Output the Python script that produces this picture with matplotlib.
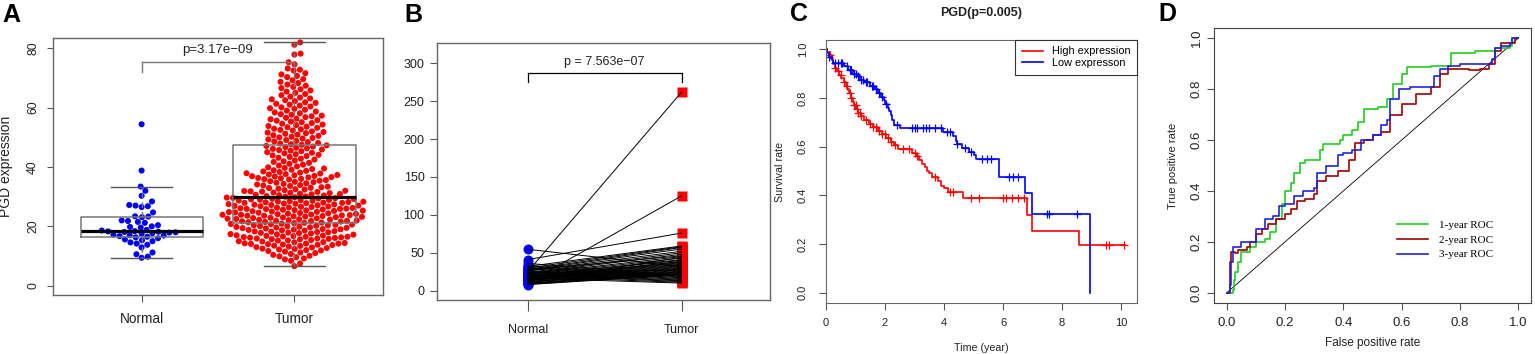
import numpy as np
import matplotlib.pyplot as plt

plt.rcParams['font.family'] = ['Liberation Sans', 'DejaVu Sans']

# ---------------- A: PGD expression, normal vs tumor ----------------
normal_expr = [54.4, 38.8, 33.4, 32.0, 30.3, 28.4, 27.2, 26.8, 26.5, 27.0,
               24.7, 23.4, 23.3, 23.1, 22.0, 21.8, 21.5, 21.2, 20.4, 20.0,
               19.8, 19.6, 18.8, 18.6, 18.4, 18.3, 18.2, 18.1, 18.0, 17.9,
               17.7, 17.5, 17.2, 16.9, 16.7, 16.5, 16.3, 16.0, 15.6, 15.3,
               15.0, 14.6, 14.2, 13.8, 12.9, 11.2, 10.6, 9.8, 9.4, 17.0]

tumor_expr = [
    6.6, 7.5,
    8.4, 8.9, 9.2, 9.6, 9.9,
    10.1, 10.4, 10.7, 11.0, 11.2, 11.5, 11.7, 11.9,
    12.0, 12.2, 12.4, 12.5, 12.7, 12.9, 13.0, 13.2, 13.4, 13.5, 13.7, 13.8, 13.9,
    14.0, 14.1, 14.2, 14.2, 14.3, 14.4, 14.6, 14.7, 14.9, 15.0, 15.2, 15.3, 15.4,
    15.6, 15.7, 15.8, 15.9, 15.95,
    16.1, 16.2, 16.3, 16.4, 16.5, 16.5, 16.6, 16.7, 16.8, 16.9, 17.0, 17.2, 17.3,
    17.4, 17.6, 17.7, 17.8, 17.9,
    18.0, 18.1, 18.2, 18.3, 18.4, 18.6, 18.7, 18.8, 18.9, 19.0, 19.1, 19.3, 19.4,
    19.5, 19.6, 19.7, 19.8, 19.9,
    20.0, 20.1, 20.2, 20.3, 20.4, 20.5, 20.6, 20.7, 20.8, 20.9,
    21.1, 21.2, 21.3, 21.4, 21.5, 21.6, 21.7, 21.8, 21.9, 21.9,
    22.0, 22.1, 22.2, 22.3, 22.4, 22.5, 22.6, 22.7, 22.8, 22.9, 23.0, 23.1, 23.2,
    23.3, 23.4, 23.5, 23.6, 23.6, 23.7, 23.8, 23.9, 23.9,
    24.0, 24.1, 24.2, 24.3, 24.4, 24.5, 24.6, 24.7, 24.8, 24.9, 25.0, 25.1, 25.2,
    25.3, 25.4, 25.5, 25.6, 25.7, 25.8, 25.9, 25.9,
    26.0, 26.1, 26.2, 26.3, 26.4, 26.5, 26.6, 26.7, 26.8, 26.9, 27.0, 27.1, 27.2,
    27.3, 27.4, 27.5, 27.6, 27.7, 27.8, 27.9, 27.9,
    28.0, 28.1, 28.2, 28.3, 28.4, 28.5, 28.6, 28.7, 28.8, 28.9, 29.0, 29.1, 29.2,
    29.3, 29.4, 29.5, 29.6, 29.7, 29.8,
    30.0, 30.1, 30.2, 30.4, 30.5, 30.6, 30.8, 30.9, 31.0, 31.2, 31.3, 31.4, 31.6,
    31.7, 31.8, 31.9,
    32.0, 32.2, 32.4, 32.5, 32.7, 32.9, 33.0, 33.2, 33.4, 33.6, 33.8, 33.9,
    34.1, 34.3, 34.5, 34.7, 34.9, 35.0, 35.2, 35.4, 35.6, 35.8, 35.9,
    36.0, 36.2, 36.3, 36.5, 36.6, 36.8, 36.9, 37.0, 37.2, 37.3, 37.5, 37.6, 37.8, 37.9,
    38.1, 38.3, 38.5, 38.7, 38.9, 39.1, 39.3, 39.5, 39.7, 39.9,
    40.2, 40.5, 40.8, 41.1, 41.4, 41.7, 41.9,
    42.2, 42.5, 42.8, 43.1, 43.4, 43.7, 43.9,
    44.1, 44.3, 44.6, 44.8, 45.0, 45.3, 45.5, 45.7, 45.9,
    46.1, 46.3, 46.5, 46.7, 46.9, 47.1, 47.3,
    47.5, 47.7, 47.9, 48.1, 48.4, 48.6, 48.8, 49.1, 49.3, 49.6, 49.8,
    50.0, 50.2, 50.5, 50.7, 50.9, 51.2, 51.4, 51.6, 51.8,
    52.0, 52.3, 52.5, 52.7, 52.9, 53.2, 53.4, 53.6, 53.8,
    54.1, 54.3, 54.6, 54.8, 55.1, 55.3, 55.6, 55.8,
    56.1, 56.3, 56.6, 56.8, 57.1, 57.3, 57.6, 57.8,
    58.1, 58.4, 58.7, 59.0, 59.3, 59.6, 59.8,
    60.1, 60.4, 60.7, 61.0, 61.3, 61.6, 61.8,
    62.2, 62.5, 62.8, 63.1, 63.4, 63.7,
    64.2, 64.6, 65.0, 65.4, 65.8,
    66.2, 66.6, 67.0, 67.4, 67.8,
    68.3, 68.7, 69.2, 69.6,
    70.3, 70.7, 71.2, 71.6,
    72.5, 72.8, 73.2,
    74.6, 75.3,
    77.9, 78.2,
    81.2, 82.0]

groups_a = ['Normal', 'Tumor']
p_text_a = 'p=3.17e\u221209'

# ---------------- B: paired samples ----------------
paired_normal = [25.0, 10.6, 41.0, 54.6, 32, 30, 28, 27, 26, 24,
                 23, 22, 21, 20, 19.5, 19, 18, 17.5, 17, 16,
                 15.5, 15, 14, 13.5, 13, 12, 11.5, 11, 10, 9.5,
                 9, 8.5, 8, 36, 33, 31, 29, 26.5, 24.5, 22.5,
                 21.5, 20.5, 18.5, 16.5, 14.5, 12.5, 27.5, 23.5, 19.8, 17.2]
paired_tumor = [262, 125, 76, 31.7, 59, 58, 57, 55, 52, 50,
                48, 45, 43, 41, 40, 38, 37, 36, 35, 34,
                33, 32, 31, 30, 29, 28, 27, 26, 25, 24,
                23, 22, 21, 20, 19, 18, 17, 16, 15, 14,
                13, 12, 11, 10, 39, 44, 46, 27.5, 24, 22]
p_text_b = 'p = 7.563e\u221207'

# ---------------- C: survival ----------------
high_t = [0.05, 0.12, 0.2, 0.25, 0.3, 0.38, 0.45, 0.52, 0.6, 0.68, 0.72, 0.78,
          0.85, 0.9, 0.95, 1.02, 1.1, 1.2, 1.3, 1.45, 1.6, 1.75, 1.9, 2.05, 2.2,
          2.3, 2.45, 2.9, 3.05, 3.15, 3.25, 3.35, 3.42, 3.5, 3.6, 3.8, 3.9, 4.0,
          4.15, 4.65, 6.8, 6.97, 8.58]
high_s = [0.99, 0.975, 0.96, 0.94, 0.925, 0.91, 0.895, 0.88, 0.865, 0.85, 0.835,
          0.82, 0.80, 0.785, 0.77, 0.755, 0.74, 0.725, 0.71, 0.695, 0.68, 0.665,
          0.65, 0.635, 0.62, 0.605, 0.59, 0.575, 0.56, 0.545, 0.53, 0.515, 0.50,
          0.49, 0.475, 0.46, 0.44, 0.43, 0.415, 0.39, 0.32, 0.255, 0.197]
high_end = 10.13
high_cens = [0.15, 0.3, 0.4, 0.5, 0.6, 0.7, 0.8, 0.85, 0.95, 1.0, 1.05, 1.1,
             1.15, 1.2, 1.35, 1.5, 1.6, 1.7, 1.8, 1.9, 2.0, 2.1, 2.2, 2.35,
             2.6, 2.8, 3.0, 3.1, 3.7, 4.2, 4.3, 4.9, 5.2, 6.0, 6.1, 6.3, 6.5,
             6.7, 9.5, 9.6, 10.1]

low_t = [0.05, 0.1, 0.2, 0.25, 0.6, 0.75, 0.9, 1.05, 1.15, 1.3, 1.5, 1.65,
         1.75, 1.85, 1.95, 2.0, 2.1, 2.15, 2.2, 2.25, 2.3, 2.5, 3.95, 4.3,
         4.4, 4.45, 4.6, 4.85, 5.0, 5.1, 5.85, 6.75, 6.98, 8.96]
low_s = [0.985, 0.97, 0.955, 0.945, 0.93, 0.915, 0.90, 0.89, 0.875, 0.865,
         0.85, 0.835, 0.82, 0.805, 0.79, 0.775, 0.76, 0.745, 0.73, 0.71, 0.69,
         0.678, 0.662, 0.645, 0.625, 0.61, 0.595, 0.58, 0.565, 0.548, 0.475,
         0.408, 0.322, 0.0]
low_end = 8.96
low_cens = [0.1, 0.3, 0.4, 0.5, 0.55, 0.7, 0.8, 0.85, 0.95, 1.0, 1.1, 1.2,
            1.25, 1.35, 1.4, 1.55, 1.6, 1.7, 1.8, 1.9, 2.05, 2.4, 2.9, 3.0,
            3.1, 3.3, 3.4, 3.5, 3.7, 3.9, 4.1, 4.2, 4.45, 4.7, 4.9, 5.3,
            5.45, 5.6, 6.2, 6.35, 6.5, 7.5, 7.55, 8.5]

# ---------------- D: ROC ----------------
roc1_fpr = [0, 0.02, 0.025, 0.03, 0.04, 0.05, 0.08, 0.1, 0.13, 0.15, 0.17, 0.19,
            0.2, 0.22, 0.23, 0.25, 0.27, 0.31, 0.32, 0.33, 0.37, 0.39, 0.4, 0.43,
            0.45, 0.47, 0.52, 0.55, 0.57, 0.6, 0.62, 0.7, 0.77, 0.85, 0.92, 0.97,
            0.98, 1]
roc1_tpr = [0, 0.01, 0.05, 0.08, 0.12, 0.16, 0.18, 0.2, 0.21, 0.24, 0.29, 0.35,
            0.40, 0.43, 0.47, 0.51, 0.52, 0.52, 0.56, 0.585, 0.585, 0.6, 0.62, 0.64,
            0.67, 0.72, 0.73, 0.76, 0.82, 0.86, 0.885, 0.89, 0.94, 0.95, 0.96, 0.97,
            1.0, 1.0]
roc2_fpr = [0, 0.01, 0.012, 0.015, 0.03, 0.04, 0.07, 0.08, 0.1, 0.12, 0.14, 0.17,
            0.2, 0.22, 0.24, 0.27, 0.3, 0.31, 0.34, 0.38, 0.42, 0.44, 0.47, 0.5,
            0.53, 0.56, 0.6, 0.65, 0.7, 0.73, 0.76, 0.83, 0.87, 0.9, 0.92, 0.94,
            0.97, 0.99, 1]
roc2_tpr = [0, 0.05, 0.12, 0.16, 0.155, 0.17, 0.18, 0.2, 0.23, 0.25, 0.27, 0.29,
            0.31, 0.33, 0.36, 0.37, 0.39, 0.44, 0.46, 0.48, 0.52, 0.59, 0.6, 0.62,
            0.63, 0.7, 0.74, 0.78, 0.81, 0.86, 0.88, 0.875, 0.88, 0.9, 0.95, 0.98,
            0.98, 1.0, 1.0]
roc3_fpr = [0, 0.01, 0.015, 0.02, 0.04, 0.05, 0.08, 0.1, 0.13, 0.16, 0.18, 0.2,
            0.23, 0.26, 0.3, 0.31, 0.34, 0.38, 0.4, 0.43, 0.46, 0.5, 0.53, 0.55,
            0.56, 0.59, 0.63, 0.68, 0.71, 0.73, 0.76, 0.8, 0.86, 0.91, 0.92, 0.94,
            0.97, 0.98, 1]
roc3_tpr = [0, 0.03, 0.12, 0.18, 0.18, 0.2, 0.2, 0.25, 0.29, 0.3, 0.34, 0.35,
            0.38, 0.4, 0.41, 0.47, 0.5, 0.54, 0.55, 0.56, 0.6, 0.62, 0.66, 0.68,
            0.76, 0.8, 0.81, 0.81, 0.85, 0.88, 0.89, 0.9, 0.9, 0.92, 0.96, 0.97,
            0.98, 1.0, 1.0]
roc_labels = ['1-year ROC', '2-year ROC', '3-year ROC']
roc_colors = ['#22cc22', '#a00000', '#2222dd']


def swarm_offsets(vals, px_per_unit, d):
    # beeswarm "swarm": each point goes to the free spot closest to the centre
    ys = np.asarray(vals, float) * px_per_unit
    out = np.zeros(len(ys))
    px, py = [], []
    for i in np.argsort(ys, kind='stable'):
        y = ys[i]
        c = 0.0
        if px:
            ax_ = np.array(px)
            ay = np.array(py)
            near = np.abs(ay - y) < d
            nx, ny = ax_[near], ay[near]
            dx = np.sqrt(d ** 2 - (ny - y) ** 2)
            cands = sorted([0.0] + list(nx + dx) + list(nx - dx), key=abs)
            for c in cands:
                if np.all((nx - c) ** 2 + (ny - y) ** 2 >= d ** 2 - 1e-6):
                    break
        out[i] = c
        px.append(c)
        py.append(y)
    return out


fig = plt.figure(figsize=(15.35, 3.54), dpi=100)
W, H = 1535, 354


def axes_px(l, r, t, b):
    return fig.add_axes([l / W, 1 - b / H, (r - l) / W, (b - t) / H])


grey = '#555555'
tc = '#222222'

# ---- A
ax = axes_px(53, 383, 38, 295)
ax.set_xlim(0.42, 2.58)
ax.set_ylim(-3.13, 83.47)
ypx_a = 237.4 / 80
xpx_a = 153.0
for k, (vals, col) in enumerate([(normal_expr, '#0000ff'), (tumor_expr, '#ff0000')]):
    off = swarm_offsets(vals, ypx_a, 6.3) / xpx_a
    ax.scatter(k + 1 + off, vals, s=19, color=col, edgecolors='none', zorder=2)
ax.boxplot([normal_expr, tumor_expr], positions=[1, 2], widths=0.8, whis=1.5,
           showfliers=False, capwidths=0.4, manage_ticks=False, zorder=3,
           boxprops=dict(color='#777777', lw=1.1),
           medianprops=dict(color='black', lw=2.3),
           whiskerprops=dict(color='#777777', lw=1.0, ls=(0, (4, 3))),
           capprops=dict(color='#555555', lw=1.0))
ax.plot([1, 2], [75.5, 75.5], color='#777777', lw=1.0, zorder=3)
ax.plot([1, 1], [75.5, 72.1], color='#777777', lw=1.0, zorder=3)
ax.plot([2, 2], [75.5, 72.1], color='#777777', lw=1.0, zorder=3)
ax.text(1.5, 79.4, p_text_a, ha='center', va='center', fontsize=9.5, color=tc)
ax.set_xticks([1, 2])
ax.set_xticklabels(groups_a, fontsize=9.8, color=tc)
ax.set_yticks([0, 20, 40, 60, 80])
ax.set_yticklabels(['0', '20', '40', '60', '80'], rotation=90, va='center',
                   fontsize=8.8, color=tc)
ax.tick_params(axis='y', length=4, pad=6, color=grey)
ax.tick_params(axis='x', length=5, pad=7, color=grey)
ax.set_ylabel('PGD expression', fontsize=10, color=tc)
ax.yaxis.set_label_coords(-0.121, 0.5)
for s in ax.spines.values():
    s.set_color('#666666')
    s.set_linewidth(1.0)

# ---- B
ax = axes_px(437, 770, 43, 300)
ax.set_xlim(0.41, 2.575)
ax.set_ylim(-12.3, 326.8)
for a, b in zip(paired_normal, paired_tumor):
    ax.plot([1, 2], [a, b], color='black', lw=0.7, zorder=3)
ax.plot([1] * len(paired_normal), paired_normal, 'o', color='#0000ff', ms=7.2,
        mec='none', zorder=2)
ax.plot([2] * len(paired_tumor), paired_tumor, 's', color='#ff0000', ms=6.6,
        mec='none', zorder=2)
ax.plot([1, 2], [287.7, 287.7], color='black', lw=0.9)
ax.plot([1, 1], [287.7, 276], color='black', lw=0.9)
ax.plot([2, 2], [287.7, 276], color='black', lw=0.9)
ax.text(1.5, 302, p_text_b, ha='center', va='center', fontsize=9, color=tc)
ax.set_xticks([1, 2])
ax.set_xticklabels(groups_a, fontsize=9, color=tc)
ax.set_yticks([0, 50, 100, 150, 200, 250, 300])
ax.tick_params(axis='y', labelsize=9, labelcolor=tc, length=5, pad=4, color=grey)
ax.tick_params(axis='x', length=8, pad=9, color=grey)
for s in ax.spines.values():
    s.set_color('#666666')
    s.set_linewidth(1.0)

# ---- C
ax = axes_px(826, 1137, 40, 303)
ax.set_xlim(0, 10.54)
ax.set_ylim(-0.042, 1.038)
for t_, s_, end, cens, col, lab in [
        (high_t, high_s, high_end, high_cens, '#ff0000', 'High expression'),
        (low_t, low_s, low_end, low_cens, '#0000ff', 'Low expresson')]:
    tt = np.array([0] + t_ + [end])
    ss = np.array([1.0] + s_ + [s_[-1]])
    ax.step(tt, ss, where='post', color=col, lw=1.2, label=lab)
    idx = np.searchsorted(tt, cens, side='right') - 1
    ax.plot(cens, ss[idx], '+', color=col, ms=6, mew=0.9)
ax.set_xticks([0, 2, 4, 6, 8, 10])
ax.set_yticks([0, 0.2, 0.4, 0.6, 0.8, 1.0])
ax.set_yticklabels(['0.0', '0.2', '0.4', '0.6', '0.8', '1.0'], rotation=90,
                   va='center')
ax.tick_params(axis='both', labelsize=8, labelcolor=tc, length=5, color=grey)
ax.tick_params(axis='y', pad=8)
ax.tick_params(axis='x', pad=6)
ax.set_xlabel('Time (year)', fontsize=7.7, color=tc)
ax.xaxis.set_label_coords(0.5, -0.152)
ax.set_ylabel('Survival rate', fontsize=7.7, color=tc)
ax.yaxis.set_label_coords(-0.132, 0.5)
ax.set_title('PGD(p=0.005)', fontsize=9, fontweight='bold', color=tc, y=1.06)
leg = ax.legend(loc='upper right', borderaxespad=0, fontsize=7.8, fancybox=False,
                handlelength=2.0, handletextpad=0.8, labelspacing=0.15,
                borderpad=0.6, framealpha=1)
leg.get_frame().set_edgecolor('#333333')
leg.get_frame().set_linewidth(0.8)
for s in ax.spines.values():
    s.set_color('#666666')

# ---- D
ax = axes_px(1214, 1531, 28, 303)
ax.set_xlim(-0.0436, 1.0436)
ax.set_ylim(-0.04, 1.04)
ax.plot([0, 1], [0, 1], color='black', lw=0.6)
for fpr, tpr, col, lab in zip([roc1_fpr, roc2_fpr, roc3_fpr],
                              [roc1_tpr, roc2_tpr, roc3_tpr], roc_colors, roc_labels):
    ax.step(fpr, tpr, where='post', color=col, lw=1.2, label=lab)
ticks = [0, 0.2, 0.4, 0.6, 0.8, 1.0]
tick_lab = ['0.0', '0.2', '0.4', '0.6', '0.8', '1.0']
ax.set_xticks(ticks)
ax.set_xticklabels(tick_lab)
ax.set_yticks(ticks)
ax.set_yticklabels(tick_lab, rotation=90, va='center')
ax.tick_params(axis='both', labelsize=9.5, labelcolor=tc, length=5, color=grey)
ax.tick_params(axis='y', pad=3)
ax.tick_params(axis='x', pad=5)
ax.set_xlabel('False positive rate', fontsize=8.5, color=tc)
ax.xaxis.set_label_coords(0.5, -0.123)
ax.set_ylabel('True positive rate', fontsize=8, color=tc)
ax.yaxis.set_label_coords(-0.114, 0.5)
ax.legend(loc='center', bbox_to_anchor=(0.73, 0.23), frameon=False,
          prop={'family': 'Liberation Serif', 'size': 8}, handlelength=2.8,
          handletextpad=1.0, labelspacing=0.45)
for s in ax.spines.values():
    s.set_color('#444444')

# panel letters
for lab, x, y in [('A', 2, 3), ('B', 404, 3), ('C', 790, 2), ('D', 1158, 2)]:
    fig.text(x / W, 1 - y / H, lab, fontsize=18, fontweight='bold', ha='left',
             va='top', color='black')

fig.savefig('out.png', dpi=100)
